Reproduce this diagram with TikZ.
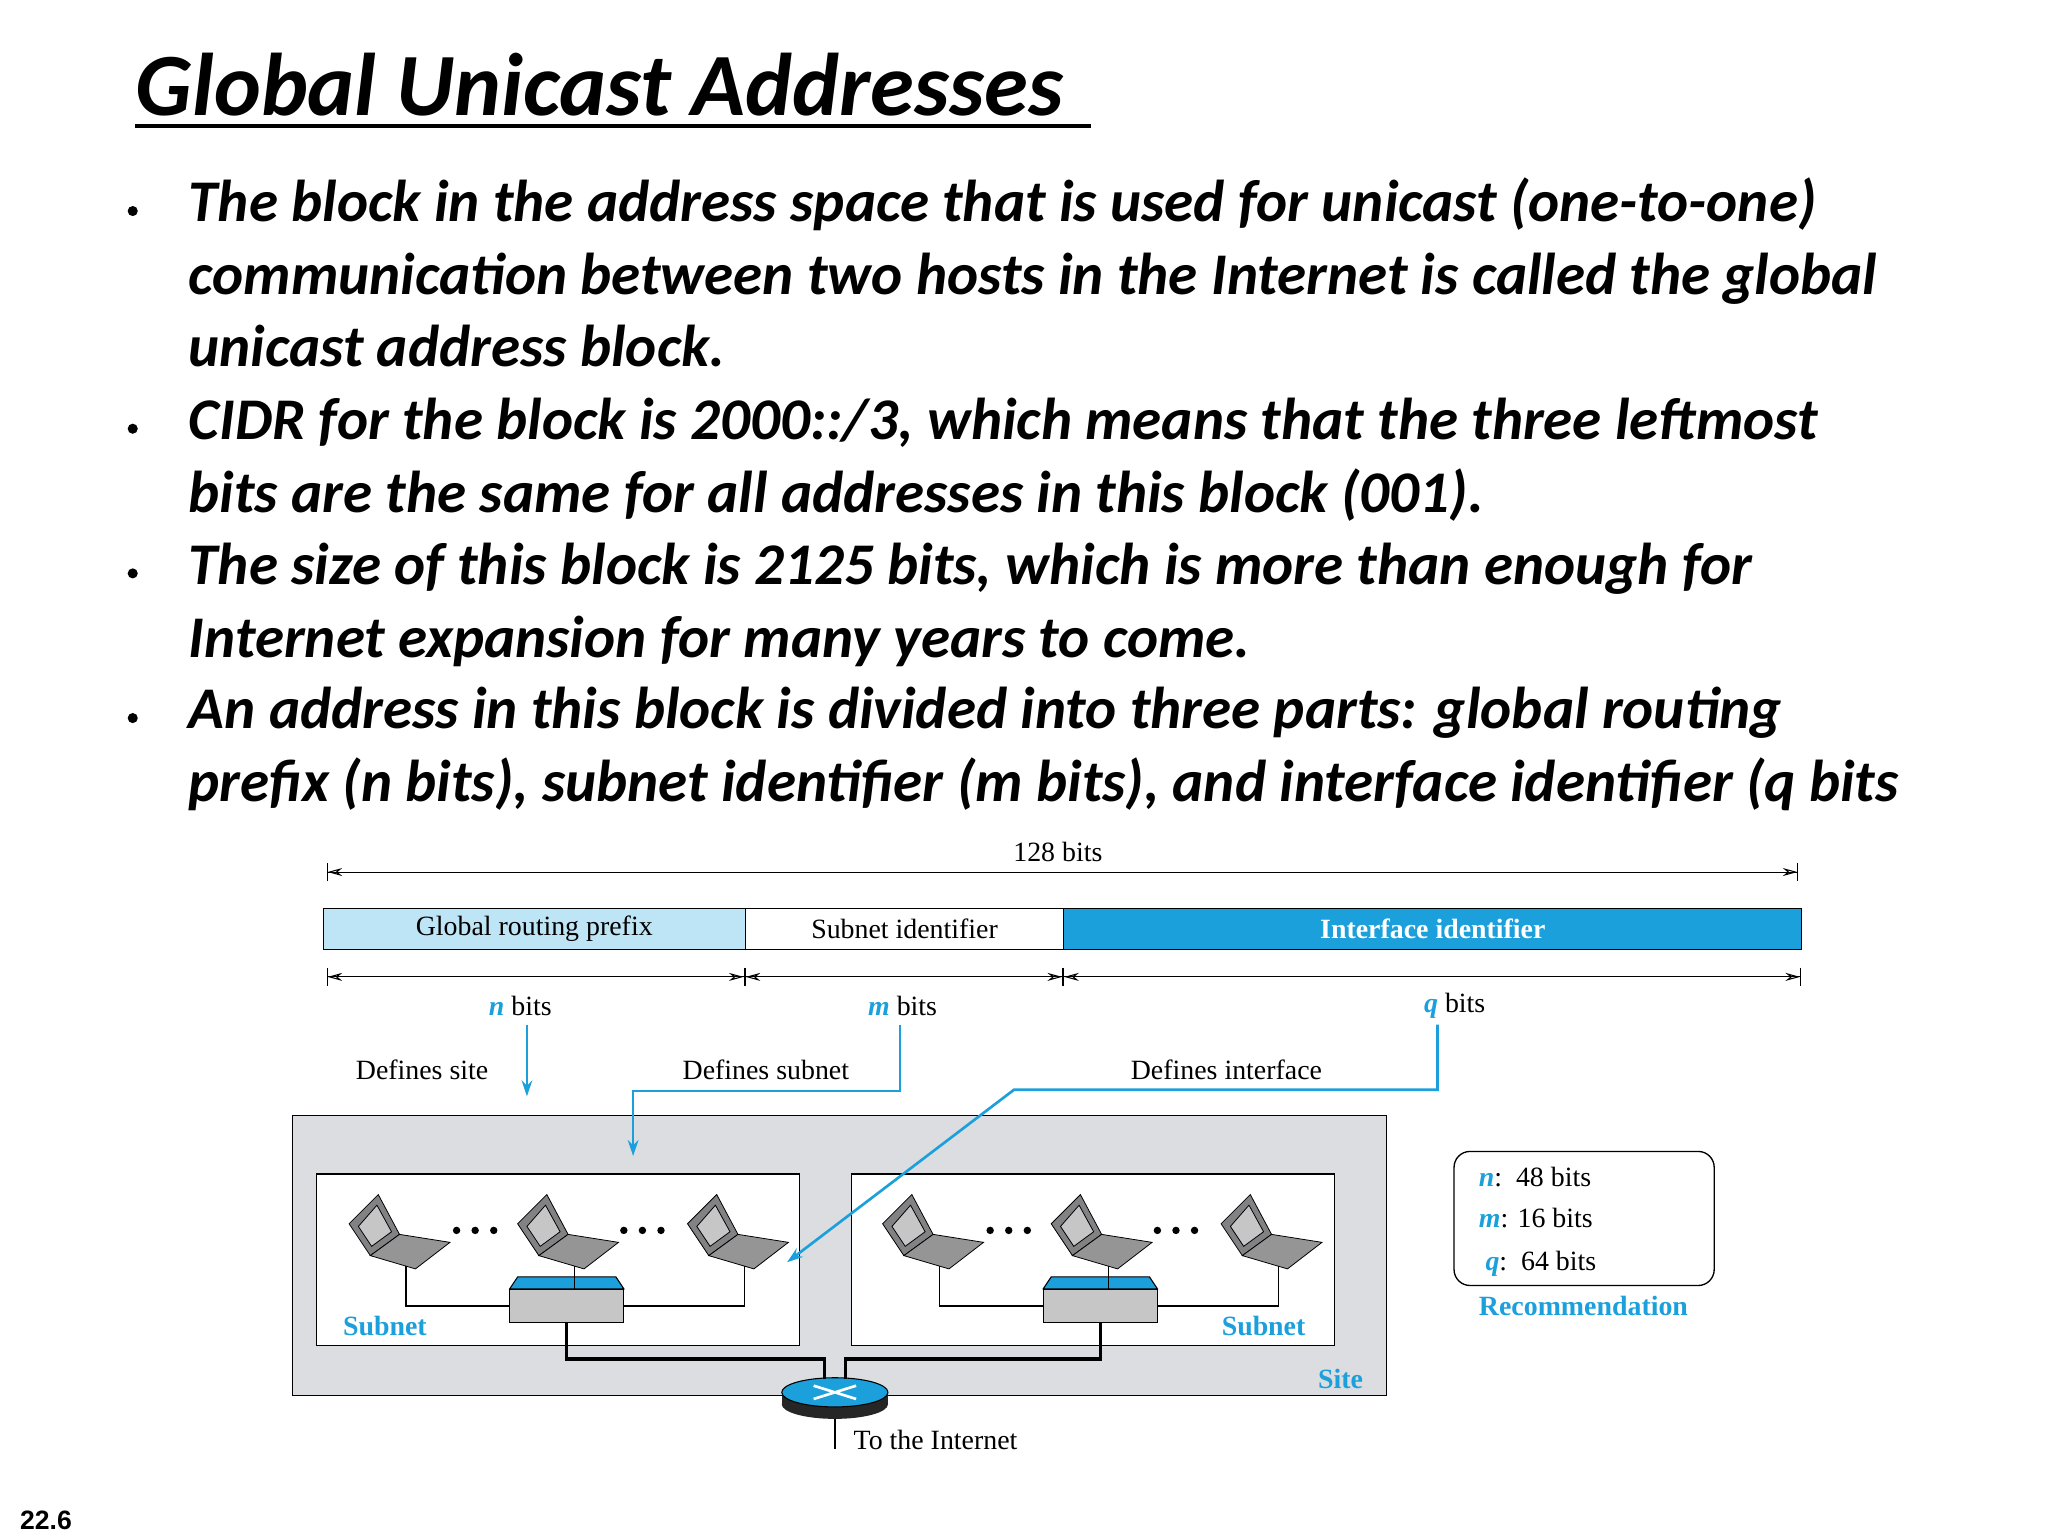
\documentclass[tikz,border=0pt]{standalone}
\usepackage{fontspec}
\setmainfont{Liberation Serif}
\newfontfamily\slidefont{Carlito}
\newfontfamily\numfont{Liberation Sans}
\usetikzlibrary{arrows.meta,positioning,shapes.geometric}
\definecolor{cyanblue}{RGB}{27,160,220}
\definecolor{lightcyan}{RGB}{190,229,246}
\definecolor{sitegray}{RGB}{220,221,224}
\definecolor{lapgray}{RGB}{130,130,132}
\tikzset{
  bullettext/.style={anchor=base west,inner sep=0pt,font=\slidefont\fontsize{44.5}{44.5}\selectfont\bfseries\itshape},
  lbl/.style={inner sep=0pt,font=\fontsize{21}{21}\selectfont},
  bluelbl/.style={lbl,text=cyanblue,font=\fontsize{21}{21}\selectfont\bfseries},
  dim/.style={{Bar[width=14pt]Stealth[length=11pt,width=6pt,open]}-{Stealth[length=11pt,width=6pt,open]Bar[width=14pt]},line width=0.8pt},
  pointer/.style={cyanblue,line width=2pt,-{Stealth[length=12pt,width=8pt]}},
  wire/.style={line width=1pt},
  trunk/.style={line width=2.6pt},
}
% laptop: #1 name of its cable point, #2 centre
\newcommand{\laptop}[2]{%
  \begin{scope}[shift={#2}]
    \draw[fill=lapgray,line width=0.6pt] (-38,-6) -- (-16,-28) -- (0,2) -- (-22,18) -- cycle;
    \draw[fill=gray!45,line width=0.6pt] (-31,-4) -- (-17,-20) -- (-6,0) -- (-21,11) -- cycle;
    \draw[fill=lapgray!85,line width=0.6pt] (-22,18) -- (0,2) -- (38,8) -- (12,28) -- cycle;
    \coordinate (#1) at (5,26);
  \end{scope}}
\begin{document}
\begin{tikzpicture}[x=1pt,y=-1pt]
\useasboundingbox (0,0) rectangle (1543,1157);

% title and bullets
\node[anchor=base west,inner sep=0pt,font=\slidefont\fontsize{67}{67}\selectfont\bfseries\itshape] (title) at (102,87) {Global Unicast Addresses};
\draw[line width=2.5pt] (title.base west) ++(0,8) -- ++(720,0);
\foreach \y in {167,331,440,549}
  \fill (100,\y-8) circle (3.8);
\node[bullettext] (l1) at (142,167) {The block in the address space that is used for unicast (one-to-one)};
\node[bullettext] (l2) at (142,222) {communication between two hosts in the Internet is called the global};
\node[bullettext] (l3) at (142,276) {unicast address block.};
\node[bullettext] (l4) at (142,331) {CIDR for the block is 2000::/3, which means that the three leftmost};
\node[bullettext] (l5) at (142,386) {bits are the same for all addresses in this block (001).};
\node[bullettext] (l6) at (142,440) {The size of this block is 2125 bits, which is more than enough for};
\node[bullettext] (l7) at (142,495) {Internet expansion for many years to come.};
\node[bullettext] (l8) at (142,549) {An address in this block is divided into three parts: global routing};
\node[bullettext] (l9) at (142,604) {prefix (n bits), subnet identifier (m bits), and interface identifier (q bits};
\node[anchor=base west,inner sep=0pt,font=\numfont\fontsize{20}{20}\selectfont\bfseries] (page) at (15,1152) {22.6};

% address layout
\coordinate (a0) at (246,657);
\coordinate (a1) at (1355,657);
\draw[dim] (a0) -- (a1);
\node[lbl] (total) at (797,642) {128 bits};
\node[draw,fill=lightcyan,minimum width=318,minimum height=31,anchor=north west,lbl,line width=1pt] (prefix) at (243,684) {Global routing prefix};
\node[draw,fill=white,minimum width=240,minimum height=31,anchor=north west,lbl,line width=1pt] (subnet) at (561,684) {Subnet identifier};
\node[draw,fill=cyanblue,minimum width=556,minimum height=31,anchor=north west,lbl,text=white,font=\fontsize{21}{21}\selectfont\bfseries,line width=1pt] (iface) at (801,684) {Interface identifier};
\coordinate (b0) at (246,736);
\coordinate (b1) at (561,736);
\coordinate (b2) at (801,736);
\coordinate (b3) at (1357,736);
\draw[dim] (b0) -- (b1);
\draw[dim] (b1) -- (b2);
\draw[dim] (b2) -- (b3);
\node[lbl] (nbits) at (392,758) {\textcolor{cyanblue}{\textbf{\textit{n}}} bits};
\node[lbl] (mbits) at (680,758) {\textcolor{cyanblue}{\textbf{\textit{m}}} bits};
\node[lbl] (qbits) at (1096,758) {\textcolor{cyanblue}{\textbf{\textit{q}}} bits};
\node[lbl] (dsite) at (318,806) {Defines site};
\node[lbl] (dsub) at (577,806) {Defines subnet};
\node[lbl] (dif) at (924,806) {Defines interface};

% site
\node[draw,fill=sitegray,minimum width=824,minimum height=211,anchor=north west,line width=1pt] (site) at (220,840) {};
\node[draw,fill=white,minimum width=364,minimum height=129,anchor=north west,line width=1pt] (subA) at (238,884) {};
\node[draw,fill=white,minimum width=364,minimum height=129,anchor=north west,line width=1pt] (subB) at (641,884) {};
\node[bluelbl] (subAl) at (290,999) {Subnet};
\node[bluelbl] (subBl) at (952,999) {Subnet};
\node[bluelbl] (sitel) at (1010,1039) {Site};

% pointers
\coordinate (pn) at (397,772);
\draw[pointer] (pn) -- (397,826);
\coordinate (pm) at (678,772);
\draw[pointer] (pm) |- (477,822) -- (477,871);
\coordinate (pq) at (1083,772);
\coordinate (pqt) at (593,951);
\draw[pointer] (pq) |- (764,821) -- (pqt);

% hosts and switches
\foreach \n/\x in {a1/301,a2/428,a3/556,b1/703,b2/830,b3/958}
  \laptop{\n}{(\x,928)};
\foreach \x in {344,358,372,470,484,498,746,760,774,872,886,900}
  \fill (\x,927) circle (2.8);
\foreach \s/\x in {swA/427,swB/829}{
  \draw[fill=cyanblue,line width=0.8pt] (\x-43,971) -- (\x-37,962) -- (\x+37,962) -- (\x+43,971) -- cycle;
  \node[draw,fill=gray!45,minimum width=86,minimum height=25,anchor=north,line width=0.8pt] (\s) at (\x,971) {};
}
\draw[wire] (a1) |- (swA.west);
\draw[wire] (a2) -- (a2 |- swA.north);
\draw[wire] (a3) |- (swA.east);
\draw[wire] (b1) |- (swB.west);
\draw[wire] (b2) -- (b2 |- swB.north);
\draw[wire] (b3) |- (swB.east);

% router
\fill[black!85] (589,1050) rectangle (669,1058);
\fill[black!85] (629,1058) ellipse (40 and 11);
\node[draw,fill=cyanblue,ellipse,minimum width=80,minimum height=22,inner sep=0pt,line width=0.8pt] (router) at (629,1049) {};
\draw[white,line width=2pt] (613,1044) -- (645,1054) (613,1054) -- (645,1044);
\draw[trunk] (swA.south) |- (621,1024) -- (621,1039);
\draw[trunk] (swB.south) |- (637,1024) -- (637,1039);
\coordinate (net) at (629,1092);
\draw[wire] (629,1069) -- (net);
\node[lbl,anchor=west] (netl) at (643,1085) {To the Internet};

% recommendation
\node[draw,rounded corners=12pt,minimum width=196,minimum height=101,anchor=north west,line width=1pt] (rec) at (1095,867) {};
\node[lbl,anchor=west] (rn) at (1114,887) {\textcolor{cyanblue}{\textbf{\textit{n}}}:\ \ 48 bits};
\node[lbl,anchor=west] (rm) at (1114,918) {\textcolor{cyanblue}{\textbf{\textit{m}}}: 16 bits};
\node[lbl,anchor=west] (rq) at (1119,952) {\textcolor{cyanblue}{\textbf{\textit{q}}}:\ \ 64 bits};
\node[bluelbl] (recl) at (1193,984) {Recommendation};
\end{tikzpicture}
\end{document}
